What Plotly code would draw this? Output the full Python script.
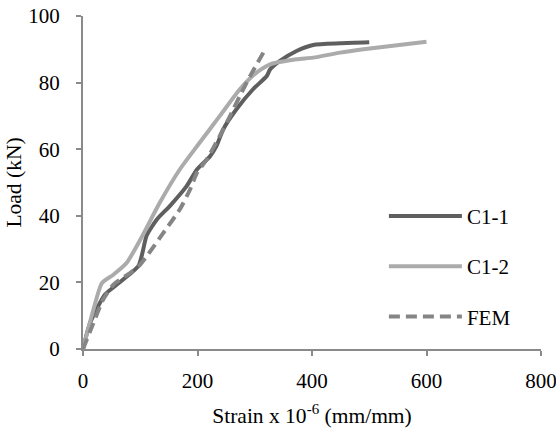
import plotly.graph_objects as go

c11_x = [0, 12, 38, 53, 82, 97, 104, 111, 129, 152, 181, 199, 222, 233, 245, 268, 297, 321, 327, 344, 373, 402, 449, 500]
c11_y = [0, 7.7, 16.3, 18.5, 22.5, 25, 29, 34, 38.9, 43, 48.9, 53.9, 57.9, 60.9, 66, 72, 78, 82, 84, 86.5, 89.5, 91.3, 91.8, 92.1]

c12_x = [0, 18, 33, 53, 76, 100, 134, 169, 204, 239, 274, 303, 327, 373, 402, 449, 490, 600]
c12_y = [0, 11.7, 19.8, 22.3, 25.8, 32.8, 43.9, 53.9, 62, 70, 78, 83, 85.5, 87, 87.5, 89, 90, 92.3]

fem_x = [0, 18, 35, 53, 82, 97, 111, 140, 169, 187, 199, 216, 239, 257, 274, 292, 315]
fem_y = [0, 7.7, 14.8, 19.3, 22.8, 24.8, 27.8, 34.8, 41.9, 47.9, 52.9, 56.9, 64, 70, 76, 82, 89]

x_ticks = [0, 200, 400, 600, 800]
y_ticks = [0, 20, 40, 60, 80, 100]

font = "Liberation Serif, Times New Roman, serif"

fig = go.Figure()
fig.add_trace(go.Scatter(x=c11_x, y=c11_y, mode="lines", name="C1-1", legendgroup="a",
                         line=dict(color="#5f5f5f", width=4, shape="spline", smoothing=0.6)))
fig.add_trace(go.Scatter(x=c12_x, y=c12_y, mode="lines", name="C1-2", legendgroup="b",
                         line=dict(color="#ababab", width=4, shape="spline", smoothing=0.6)))
fig.add_trace(go.Scatter(x=fem_x, y=fem_y, mode="lines", name="FEM", legendgroup="c",
                         line=dict(color="#858585", width=4, dash="11px,6px", shape="spline", smoothing=0.6)))

fig.update_layout(
    width=556, height=431,
    margin=dict(l=83, r=15, t=16, b=82, autoexpand=False),
    paper_bgcolor="white", plot_bgcolor="white",
    font=dict(family=font, size=21, color="black"),
    showlegend=True,
    legend=dict(x=0.657, y=0.46, xanchor="left", yanchor="top",
                bgcolor="rgba(0,0,0,0)", tracegroupgap=20, itemwidth=73,
                font=dict(family=font, size=21, color="black")),
    xaxis=dict(range=[0, 800], tickvals=x_ticks, showgrid=False, zeroline=False,
               showline=True, linecolor="#8a8a8a", linewidth=2,
               ticks="outside", tickcolor="#8a8a8a", ticklen=5, tickwidth=2,
               ticklabelstandoff=7, ticklabeloverflow="allow",
               title=dict(text="Strain x 10<sup>-6</sup> (mm/mm)", font=dict(size=21.5), standoff=16),
               tickfont=dict(size=21)),
    yaxis=dict(range=[0, 100], tickvals=y_ticks, showgrid=False, zeroline=False,
               showline=True, linecolor="#8a8a8a", linewidth=2,
               ticks="outside", tickcolor="#8a8a8a", ticklen=5, tickwidth=2,
               ticklabelstandoff=12, ticklabeloverflow="allow",
               title=dict(text="Load (kN)", font=dict(size=21.5), standoff=1),
               tickfont=dict(size=21)),
)

fig.write_html("out.html", config={"displayModeBar": False},
               post_script="document.body.style.margin='0';document.body.style.overflow='hidden';")
